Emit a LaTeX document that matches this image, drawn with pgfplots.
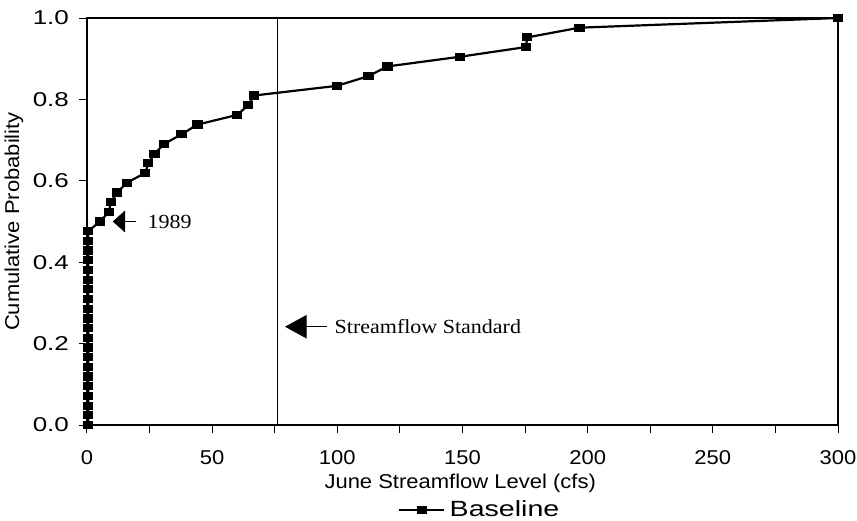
\documentclass[border=0pt]{standalone}
\usepackage{fontspec}
\setmainfont{Liberation Sans}[FakeStretch=1.1]
\newfontfamily\serifA{Liberation Serif}[FakeStretch=1.1]
\newfontfamily\wideA{Liberation Sans}[FakeStretch=1.3]
\usepackage{pgfplots}
\usepackage{pgfplotstable}
\pgfplotsset{compat=1.18}
\usetikzlibrary{arrows.meta}

\pgfplotstableread{
x y
0.5 0.0000
0.5 0.0238
0.5 0.0476
0.5 0.0714
0.5 0.0952
0.5 0.1190
0.5 0.1429
0.5 0.1667
0.5 0.1905
0.5 0.2143
0.5 0.2381
0.5 0.2619
0.5 0.2857
0.5 0.3095
0.5 0.3333
0.5 0.3571
0.5 0.3810
0.5 0.4048
0.5 0.4286
0.5 0.4524
0.5 0.4762
5.2 0.5000
8.8 0.5238
9.5 0.5476
12.1 0.5714
15.9 0.5952
23.2 0.6190
24.5 0.6429
27.0 0.6667
30.8 0.6905
37.8 0.7143
44.1 0.7381
60.0 0.7619
64.4 0.7857
66.7 0.8095
99.8 0.8333
112.4 0.8571
120.0 0.8810
149.0 0.9048
175.3 0.9286
175.9 0.9524
196.7 0.9762
300.0 1.0000
}\datatable

\begin{document}
\begin{tikzpicture}
\begin{axis}[
  at={(0,0)}, anchor=south west,
  scale only axis,
  width=375.5pt, height=203.5pt,
  xmin=0, xmax=300, ymin=0, ymax=1,
  clip=false,
  axis line style={line width=0.75pt},
  xtick={0,50,...,300},
  minor xtick={25,75,...,275},
  ytick={0,0.2,0.4,0.6,0.8,1.0},
  xtick pos=lower, ytick pos=left,
  tick align=outside,
  major tick length=4pt, minor tick length=4pt,
  tick style={line width=0.5pt, black},
  /pgf/number format/assume math mode=true,
  yticklabel style={/pgf/number format/fixed, /pgf/number format/fixed zerofill, /pgf/number format/precision=1, font=\wideA\fontsize{10}{12}\selectfont},
  xticklabel style={font=\fontsize{10}{12}\selectfont},
  xticklabel shift=5pt,
  yticklabel shift=1.5pt,
  xlabel={June Streamflow Level (cfs)},
  ylabel={Cumulative Probability},
  label style={font=\fontsize{10}{12}\selectfont},
  x label style={at={(axis description cs:0.497,-0.1437)}, anchor=center},
  y label style={at={(axis description cs:-0.0972,0.5)}, anchor=center},
  legend style={at={(axis description cs:0.5246,-0.2088)}, anchor=center, draw=none, fill=none, font=\wideA\fontsize{11}{13}\selectfont, nodes={inner sep=2.1pt}},
  legend image code/.code={\draw[mark repeat=2,mark phase=2] plot coordinates {(0pt,0pt) (11.25pt,0pt) (22.5pt,0pt)};},
]
\addplot[black, line width=1.1pt, mark=square*, mark size=1.5pt, mark options={xscale=1.35, solid}] table[x=x, y=y] {\datatable};
\addlegendentry{Baseline}
\addplot[black, line width=0.5pt, forget plot] coordinates {(76,0) (76,1)};
\draw[-{Triangle[length=6.2pt,width=11pt]}, line width=0.4pt] (axis cs:19.6,0.5) -- (axis cs:10.3,0.5);
\node[anchor=west, font=\serifA\fontsize{10}{12}\selectfont, inner sep=0pt] at (axis cs:24.1,0.5) {1989};
\draw[-{Triangle[length=10.8pt,width=11.7pt]}, line width=0.4pt] (axis cs:95.8,0.2415) -- (axis cs:79.1,0.2415);
\node[anchor=west, font=\serifA\fontsize{10}{12}\selectfont, inner sep=0pt] at (axis cs:98.8,0.2415) {Streamflow Standard};
\end{axis}
\pgfresetboundingbox
\useasboundingbox (-43.5pt,-47.5pt) rectangle (385pt,212.5pt);
\end{tikzpicture}
\end{document}
